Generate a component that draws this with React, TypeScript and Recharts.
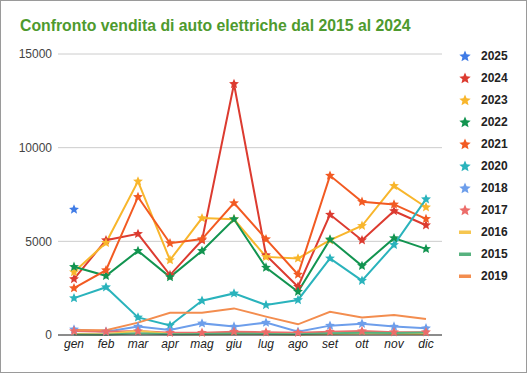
import { LineChart, Line, XAxis, YAxis, CartesianGrid, Legend } from 'recharts';

const months = ['gen', 'feb', 'mar', 'apr', 'mag', 'giu', 'lug', 'ago', 'set', 'ott', 'nov', 'dic'];
const yTicks = [0, 5000, 10000, 15000];

const v2025 = [6700, null, null, null, null, null, null, null, null, null, null, null];
const v2024 = [2990, 5060, 5400, 3200, 5060, 13400, 4260, 2580, 6430, 5060, 6620, 5860];
const v2023 = [3360, 4920, 8200, 4000, 6240, 6180, 4170, 4090, 5060, 5830, 7960, 6820];
const v2022 = [3640, 3160, 4490, 3090, 4490, 6180, 3600, 2310, 5100, 3690, 5170, 4600];
const v2021 = [2500, 3460, 7370, 4900, 5120, 7040, 5120, 3230, 8510, 7110, 6970, 6200];
const v2020 = [1970, 2550, 940, 510, 1830, 2220, 1600, 1870, 4090, 2900, 4810, 7250];
const v2018 = [300, 180, 450, 270, 620, 450, 660, 180, 500, 600, 450, 360];
const v2017 = [210, 180, 210, 120, 120, 180, 150, 120, 180, 210, 150, 150];
const v2016 = [60, 40, 220, 50, 40, 60, 50, 30, 60, 80, 70, 60];
const v2015 = [30, 20, 90, 40, 50, 80, 60, 40, 100, 120, 110, 130];
const v2019 = [270, 260, 660, 1190, 1190, 1420, 980, 570, 1240, 940, 1070, 850];

const series = [
  { key: 'y2025', name: '2025', values: v2025, color: '#3f7be6', star: true },
  { key: 'y2024', name: '2024', values: v2024, color: '#dc3b30', star: true },
  { key: 'y2023', name: '2023', values: v2023, color: '#f8b62c', star: true },
  { key: 'y2022', name: '2022', values: v2022, color: '#129450', star: true },
  { key: 'y2021', name: '2021', values: v2021, color: '#f25a22', star: true },
  { key: 'y2020', name: '2020', values: v2020, color: '#2ab3bc', star: true },
  { key: 'y2018', name: '2018', values: v2018, color: '#6d9eeb', star: true },
  { key: 'y2017', name: '2017', values: v2017, color: '#ec6d6a', star: true },
  { key: 'y2016', name: '2016', values: v2016, color: '#f6c650', star: false },
  { key: 'y2015', name: '2015', values: v2015, color: '#57b27f', star: false },
  { key: 'y2019', name: '2019', values: v2019, color: '#f38d4f', star: false },
];

const data = months.map((m, i) => {
  const row: Record<string, string | number | null> = { month: m };
  series.forEach((s) => {
    row[s.key] = s.values[i];
  });
  return row;
});

function starPath(cx: number, cy: number, r: number) {
  const inner = r * 0.45;
  let d = '';
  for (let i = 0; i < 10; i++) {
    const rad = i % 2 === 0 ? r : inner;
    const a = -Math.PI / 2 + (i * Math.PI) / 5;
    d += (i === 0 ? 'M' : 'L') + (cx + rad * Math.cos(a)).toFixed(2) + ',' + (cy + rad * Math.sin(a)).toFixed(2);
  }
  return d + 'Z';
}

const makeStar = (color: string) => (props: any) => {
  const { cx, cy, value, index } = props;
  if (value == null || cx == null || cy == null) return <g key={index} />;
  return <path key={index} d={starPath(cx, cy, 5.2)} fill={color} />;
};

function LegendBox() {
  return (
    <div style={{ position: 'absolute', left: 456, top: 45 }}>
      {series.map((s) => (
        <div key={s.key} style={{ display: 'flex', alignItems: 'center', height: 22 }}>
          <svg width={18} height={16}>
            {s.star ? (
              <path d={starPath(9, 8.5, 6)} fill={s.color} />
            ) : (
              <rect x={3} y={6.5} width={12} height={3.5} fill={s.color} />
            )}
          </svg>
          <span
            style={{
              marginLeft: 7,
              fontFamily: 'Arial, "Liberation Sans", sans-serif',
              fontWeight: 'bold',
              fontSize: 12,
              color: '#222',
            }}
          >
            {s.name}
          </span>
        </div>
      ))}
    </div>
  );
}

export default function App() {
  return (
    <div
      style={{
        position: 'absolute',
        left: 0,
        top: 0,
        width: 527,
        height: 373,
        background: '#fff',
        fontFamily: 'Arial, "Liberation Sans", sans-serif',
      }}
    >
      <div
        style={{
          position: 'absolute',
          left: 20,
          top: 18,
          lineHeight: '16px',
          fontSize: 15.8,
          fontWeight: 'bold',
          color: '#4e9a2e',
          whiteSpace: 'nowrap',
        }}
      >
        Confronto vendita di auto elettriche dal 2015 al 2024
      </div>
      <div style={{ position: 'absolute', left: 0, top: 0 }}>
        <LineChart width={527} height={373} data={data} margin={{ top: 54, right: 85, bottom: 8, left: 8 }}>
          <CartesianGrid vertical={false} stroke="#cccccc" />
          <XAxis
            dataKey="month"
            padding={{ left: 16, right: 16 }}
            tickLine={false}
            tickSize={4}
            tickMargin={0}
            stroke="#333"
            height={30}
            interval={0}
            tick={{ fontSize: 12, fill: '#222', fontStyle: 'italic' }}
          />
          <YAxis
            domain={[0, 15000]}
            ticks={yTicks}
            axisLine={false}
            tickLine={false}
            tickSize={6}
            tickMargin={0}
            width={50}
            tick={{ fontSize: 12, fill: '#444' }}
          />
          <Legend content={() => <LegendBox />} wrapperStyle={{ position: 'absolute', left: 0, top: 0, width: 0, height: 0 }} />
          {series.map((s) => (
            <Line
              key={s.key}
              dataKey={s.key}
              name={s.name}
              type="linear"
              stroke={s.color}
              strokeWidth={2}
              dot={s.star ? makeStar(s.color) : false}
              activeDot={false}
              isAnimationActive={false}
            />
          ))}
        </LineChart>
      </div>
      <div
        style={{
          position: 'absolute',
          left: 0,
          top: 0,
          width: 527,
          height: 373,
          boxSizing: 'border-box',
          border: '1px solid #9a9a9a',
          pointerEvents: 'none',
        }}
      />
    </div>
  );
}
